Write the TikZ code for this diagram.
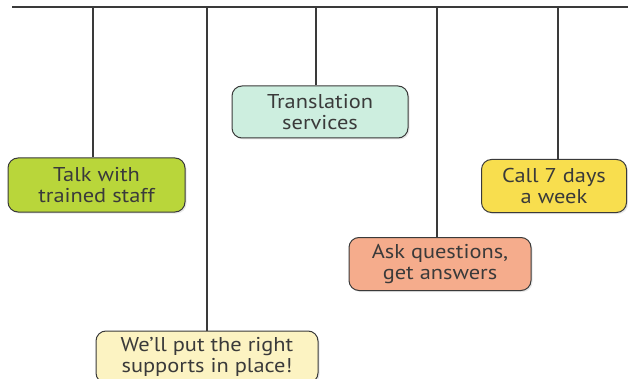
\documentclass[tikz,border=0pt]{standalone}
\usepackage{fontspec}
\setmainfont{PT Sans}[FakeStretch=1.12]
\usetikzlibrary{shadows}
\definecolor{lime}{HTML}{B9D63A}
\definecolor{mint}{HTML}{CDEEDF}
\definecolor{sun}{HTML}{F8DE4E}
\definecolor{salmon}{HTML}{F5AC8C}
\definecolor{cream}{HTML}{FCF3C2}
\definecolor{ink}{HTML}{3A3A3A}
\tikzset{
  rail/.style={draw=ink, line width=1.1pt},
  tag/.style={draw=ink, line width=1pt, rounded corners=10pt, align=center,
    text=ink, font=\fontsize{20}{21}\selectfont, inner sep=0pt,
    drop shadow={opacity=0.18, shadow xshift=1.5pt, shadow yshift=-1.5pt}}
}

\begin{document}
\begin{tikzpicture}[x=1pt, y=-1pt]
\useasboundingbox (0,0) rectangle (628,379);
\coordinate(L) at (12, 7);
\coordinate(Rt) at (628, 7);
\coordinate(a) at (93, 7);
\coordinate(b) at (207, 7);
\coordinate(c) at (316, 7);
\coordinate(d) at (437, 7);
\coordinate(e) at (558, 7);
\node[tag, fill=lime, minimum width=177pt, minimum height=54pt](talk) at (96.5, 185) {Talk with\\trained staff};
\node[tag, fill=mint, minimum width=176pt, minimum height=52pt](trans) at (320, 112) {Translation\\services};
\node[tag, fill=sun, minimum width=145pt, minimum height=53pt](call) at (554, 186) {Call 7 days\\a week};
\node[tag, fill=salmon, minimum width=182pt, minimum height=53pt](ask) at (440, 264) {Ask questions,\\get answers};
\node[tag, fill=cream, minimum width=222pt, minimum height=52pt](put) at (207, 357) {We’ll put the right\\supports in place!};
\draw[rail] (L) -- (Rt);
\draw[rail] (a) -- (a |- talk.north);
\draw[rail] (b) -- (b |- put.north);
\draw[rail] (c) -- (c |- trans.north);
\draw[rail] (d) -- (d |- ask.north);
\draw[rail] (e) -- (e |- call.north);
\end{tikzpicture}
\end{document}
